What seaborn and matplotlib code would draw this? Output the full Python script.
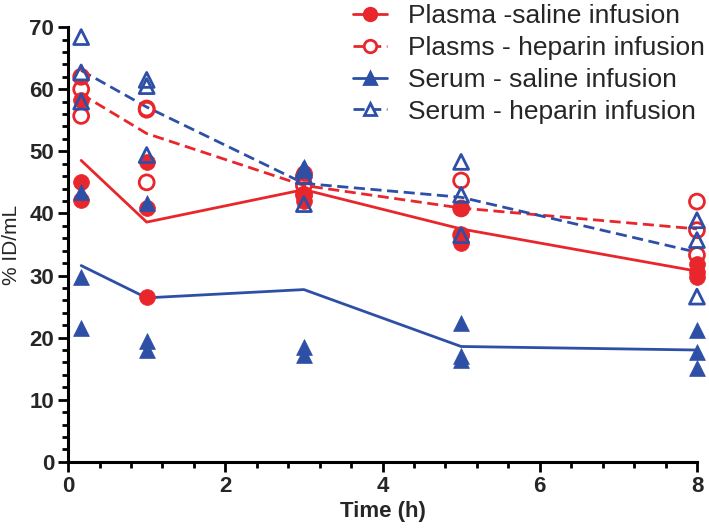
import matplotlib
matplotlib.use("Agg")
import matplotlib.pyplot as plt
from matplotlib.lines import Line2D
from matplotlib.ticker import AutoMinorLocator, MultipleLocator
import numpy as np
import pandas as pd
import seaborn as sns

# sampling times (h), first sample at 10 min
times = [1 / 6, 1, 3, 5, 8]

# individual animals (% ID/mL), one row per time point
plasma_saline = [[58.3, 45.1, 42.2], [48.3, 40.9, 26.6], [46.5, 43.0, 42.0],
                 [40.8, 36.5, 35.2], [31.8, 30.5, 29.8]]
plasma_heparin = [[62.0, 60.0, 55.7], [56.9, 56.7, 45.0], [46.0, 44.5, 43.0],
                  [45.3, 40.8, 36.5], [41.9, 37.3, 33.3]]
serum_saline = [[43.5, 29.8, 21.5], [41.7, 19.5, 18.0], [47.5, 18.5, 17.2],
                [22.3, 17.0, 16.4], [21.2, 17.7, 15.1]]
serum_heparin = [[68.4, 62.7, 58.0], [61.5, 60.5, 49.4], [47.0, 46.0, 41.5],
                 [48.3, 43.0, 36.5], [38.9, 35.7, 26.6]]

labels = ["Plasma -saline infusion", "Plasms - heparin infusion",
          "Serum - saline infusion", "Serum - heparin infusion"]

RED = "#e8262b"
BLUE = "#2d4fa6"


def to_long(values, group):
    rows = []
    for t, vals in zip(times, values):
        for v in vals:
            rows.append({"time": t, "value": v, "group": group})
    return pd.DataFrame(rows)


df = pd.concat([
    to_long(plasma_saline, labels[0]),
    to_long(plasma_heparin, labels[1]),
    to_long(serum_saline, labels[2]),
    to_long(serum_heparin, labels[3]),
], ignore_index=True)

styles = {
    labels[0]: dict(color=RED, marker="o", filled=True, ls="-"),
    labels[1]: dict(color=RED, marker="o", filled=False, ls=(0, (4, 2))),
    labels[2]: dict(color=BLUE, marker="^", filled=True, ls="-"),
    labels[3]: dict(color=BLUE, marker="^", filled=False, ls=(0, (4, 2))),
}

sns.set_style("ticks")
plt.rcParams["font.family"] = ["Liberation Sans", "DejaVu Sans"]

fig = plt.figure(figsize=(7.09, 5.32), dpi=100)
ax = fig.add_axes([0.096, 0.132, 0.887, 0.817])

# mean lines
for name in labels:
    st = styles[name]
    sns.lineplot(data=df[df.group == name], x="time", y="value",
                 estimator="mean", errorbar=None, color=st["color"],
                 linestyle=st["ls"], linewidth=2, ax=ax, zorder=2)

# individual points
for name in labels:
    st = styles[name]
    sub = df[df.group == name]
    if st["filled"]:
        sns.scatterplot(data=sub, x="time", y="value", marker=st["marker"],
                        s=130, color=st["color"], edgecolor=st["color"],
                        linewidth=0.5, ax=ax, zorder=3, clip_on=False)
    else:
        sns.scatterplot(data=sub, x="time", y="value", marker=st["marker"],
                        s=115, facecolor="none", edgecolor=st["color"],
                        linewidth=2, ax=ax, zorder=3, clip_on=False)

ax.set_xlim(0, 8)
ax.set_ylim(0, 70)
ax.xaxis.set_major_locator(MultipleLocator(2))
ax.yaxis.set_major_locator(MultipleLocator(10))
ax.xaxis.set_minor_locator(AutoMinorLocator(5))
ax.yaxis.set_minor_locator(AutoMinorLocator(5))
ax.tick_params(which="major", length=7, width=2, color="black", pad=3)
ax.tick_params(which="minor", length=4.5, width=2, color="black")
for lab in ax.get_xticklabels() + ax.get_yticklabels():
    lab.set_fontsize(16)
    lab.set_fontweight("bold")

for side in ["top", "right"]:
    ax.spines[side].set_visible(False)
for side in ["left", "bottom"]:
    ax.spines[side].set_linewidth(2.2)
    ax.spines[side].set_color("black")

ax.set_xlabel("Time (h)", fontsize=16, fontweight="bold", labelpad=3)
ax.set_ylabel("% ID/mL", fontsize=15, labelpad=6)

handles = []
for name in labels:
    st = styles[name]
    handles.append(Line2D([0], [0], color=st["color"], linestyle=st["ls"],
                          linewidth=2, marker=st["marker"], markersize=9,
                          markerfacecolor=st["color"] if st["filled"] else "white",
                          markeredgecolor=st["color"], markeredgewidth=2))
fig.legend(handles, labels, loc="upper right", bbox_to_anchor=(1.0, 1.0),
           frameon=False, fontsize=19, handlelength=1.3, handletextpad=0.8,
           labelspacing=0.3, borderpad=0.05, borderaxespad=0.1)

fig.savefig("out.png", dpi=100)
